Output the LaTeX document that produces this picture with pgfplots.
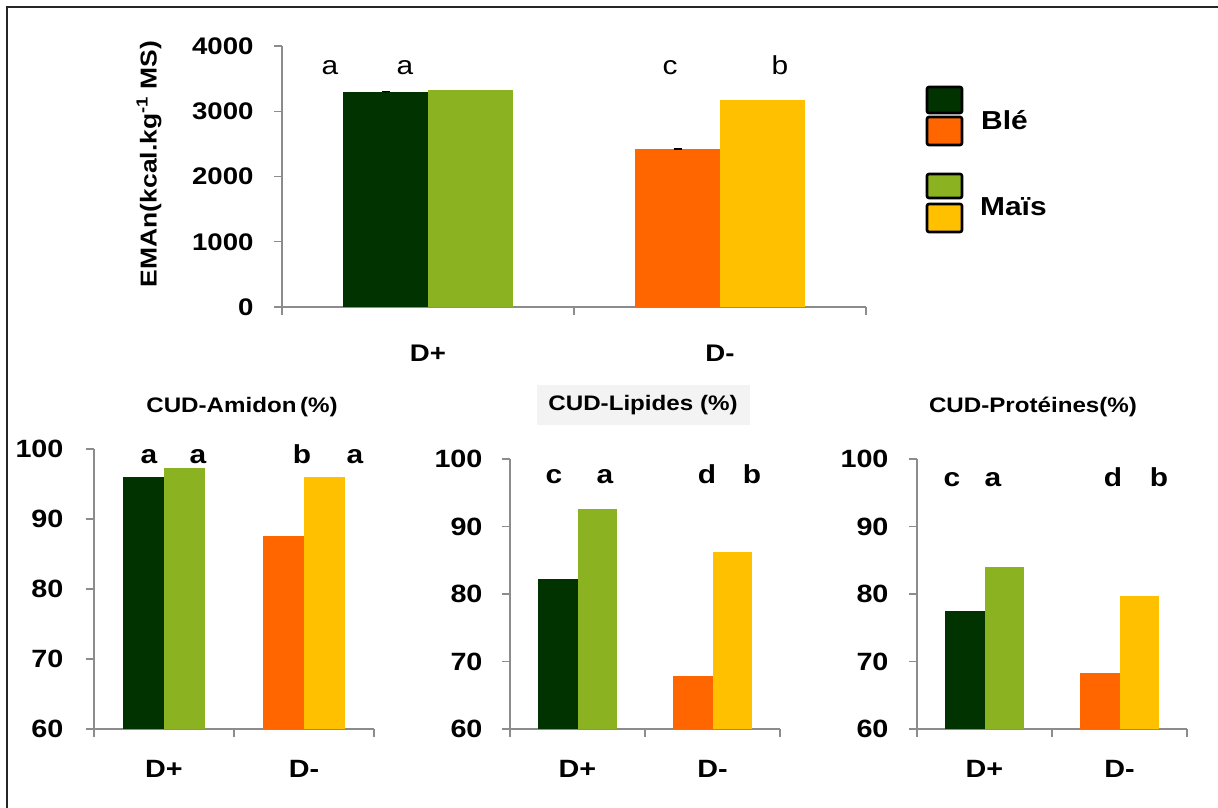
\documentclass[border=0pt]{standalone}
\usepackage{fontspec}
\setmainfont{Liberation Sans}[FakeStretch=1.15]
\usepackage{pgfplots}
\pgfplotsset{compat=1.18}
\definecolor{dg}{HTML}{003300}
\definecolor{lg}{HTML}{8BB321}
\definecolor{og}{HTML}{FF6600}
\definecolor{yl}{HTML}{FFC000}
\definecolor{axc}{HTML}{8C8C8C}
\definecolor{titlebg}{HTML}{F3F3F3}
\newcommand{\fs}[1]{\fontsize{#1bp}{#1bp}\selectfont}

\pgfplotsset{
  mybar/.style={
    scale only axis,
    axis x line*=bottom, axis y line*=left,
    axis line style={axc, line width=1.3bp, -},
    ybar, bar width=0.29,
    xmin=-0.5, xmax=1.5,
    xtick={-0.5,0.5,1.5},
    tick align=outside,
    major tick length=8bp,
    tick style={axc, line width=1.3bp},
    /pgf/number format/assume math mode=true,
    /pgf/number format/1000 sep={},
    every axis plot/.append style={draw=none},
    clip mode=individual,
  },
}

\begin{document}
\begin{tikzpicture}
\path[use as bounding box] (0,0) rectangle (1218bp,808bp);
\draw[line width=2.5bp, black!85] (7bp,-5bp) -- (7bp,801bp) -- (1225bp,801bp);

% ---------- top chart ----------
\begin{axis}[mybar,
  at={(282bp,501bp)}, anchor=south west,
  width=584bp, height=261bp,
  ymin=0, ymax=4000, ytick={0,1000,2000,3000,4000},
  xticklabels={D+,D-,{}},
  xticklabel style={xshift=146bp, yshift=-26bp, font=\bfseries\fs{24}},
  yticklabel style={xshift=-17bp, font=\bfseries\fs{24}},
]
\addplot[fill=dg, bar shift=-0.145,
  error bars/.cd, y dir=plus, y explicit,
  error bar style={black, line width=1.5bp},
  error mark options={black, rotate=90, mark size=4bp, line width=1.5bp}]
  coordinates {(0,3300) +- (0,2)};
\addplot[fill=lg, bar shift=0.145] coordinates {(0,3320)};
\addplot[fill=og, bar shift=-0.145,
  error bars/.cd, y dir=plus, y explicit,
  error bar style={black, line width=1.5bp},
  error mark options={black, rotate=90, mark size=4bp, line width=1.5bp}]
  coordinates {(1,2420) +- (0,2)};
\addplot[fill=yl, bar shift=0.145] coordinates {(1,3170)};
\node[anchor=base, font=\fs{26}] at (axis cs:-0.336,3556) {a};
\node[anchor=base, font=\fs{26}] at (axis cs:-0.079,3556) {a};
\node[anchor=base, font=\fs{26}] at (axis cs:0.829,3556) {c};
\node[anchor=base, font=\fs{26}] at (axis cs:1.205,3556) {b};
\end{axis}
\node[rotate=90, font=\bfseries\fs{23}] at (149bp,644bp) {EMAn(kcal.kg\textsuperscript{-1} MS)};

% legend
\draw[line width=2.6bp, rounded corners=2bp, fill=dg] (927bp,721bp) rectangle (962bp,695bp);
\draw[line width=2.6bp, rounded corners=2bp, fill=og] (927bp,691bp) rectangle (962bp,663bp);
\draw[line width=2.6bp, rounded corners=2bp, fill=lg] (927bp,634bp) rectangle (962bp,610bp);
\draw[line width=2.6bp, rounded corners=2bp, fill=yl] (927bp,604bp) rectangle (962bp,576bp);
\node[anchor=west, font=\bfseries\fs{26}, inner sep=0pt] at (981bp,688bp) {Blé};
\node[anchor=west, font=\bfseries\fs{26}, inner sep=0pt] at (980bp,601bp) {Maïs};

% ---------- CUD-Amidon ----------
\begin{axis}[mybar,
  at={(94bp,79bp)}, anchor=south west,
  width=280bp, height=280bp,
  ymin=60, ymax=100, ytick={60,70,80,90,100},
  xticklabels={D+,D-,{}},
  xticklabel style={xshift=70bp, yshift=-20bp, font=\bfseries\fs{25}},
  yticklabel style={xshift=-19bp, font=\bfseries\fs{25}},
]
\addplot[fill=dg, bar shift=-0.145] coordinates {(0,96.0)};
\addplot[fill=lg, bar shift=0.145] coordinates {(0,97.3)};
\addplot[fill=og, bar shift=-0.145] coordinates {(1,87.5)};
\addplot[fill=yl, bar shift=0.145] coordinates {(1,96.0)};
\node[anchor=base, font=\bfseries\fs{26}] at (axis cs:-0.107,97.9) {a};
\node[anchor=base, font=\bfseries\fs{26}] at (axis cs:0.243,97.9) {a};
\node[anchor=base, font=\bfseries\fs{26}] at (axis cs:0.986,97.9) {b};
\node[anchor=base, font=\bfseries\fs{26}] at (axis cs:1.364,97.9) {a};
\end{axis}
\node[font=\bfseries\fs{21}] at (242bp,401bp) {CUD-Amidon\,(\%)};

% ---------- CUD-Lipides ----------
\begin{axis}[mybar,
  at={(510bp,79bp)}, anchor=south west,
  width=270bp, height=270bp,
  ymin=60, ymax=100, ytick={60,70,80,90,100},
  xticklabels={D+,D-,{}},
  xticklabel style={xshift=67.5bp, yshift=-20bp, font=\bfseries\fs{25}},
  yticklabel style={xshift=-16bp, font=\bfseries\fs{25}},
]
\addplot[fill=dg, bar shift=-0.145] coordinates {(0,82.2)};
\addplot[fill=lg, bar shift=0.145] coordinates {(0,92.6)};
\addplot[fill=og, bar shift=-0.145] coordinates {(1,67.8)};
\addplot[fill=yl, bar shift=0.145] coordinates {(1,86.2)};
\node[anchor=base, font=\bfseries\fs{26}] at (axis cs:-0.174,96.3) {c};
\node[anchor=base, font=\bfseries\fs{26}] at (axis cs:0.204,96.3) {a};
\node[anchor=base, font=\bfseries\fs{26}] at (axis cs:0.959,96.3) {d};
\node[anchor=base, font=\bfseries\fs{26}] at (axis cs:1.293,96.3) {b};
\end{axis}
\node[font=\bfseries\fs{21}, fill=titlebg, minimum width=213bp, minimum height=40bp] at (643bp,403bp) {CUD-Lipides (\%)};

% ---------- CUD-Proteines ----------
\begin{axis}[mybar,
  at={(917bp,79bp)}, anchor=south west,
  width=270bp, height=270bp,
  ymin=60, ymax=100, ytick={60,70,80,90,100},
  xticklabels={D+,D-,{}},
  xticklabel style={xshift=67.5bp, yshift=-20bp, font=\bfseries\fs{25}},
  yticklabel style={xshift=-17bp, font=\bfseries\fs{25}},
]
\addplot[fill=dg, bar shift=-0.145] coordinates {(0,77.5)};
\addplot[fill=lg, bar shift=0.145] coordinates {(0,84.0)};
\addplot[fill=og, bar shift=-0.145] coordinates {(1,68.3)};
\addplot[fill=yl, bar shift=0.145] coordinates {(1,79.7)};
\node[anchor=base, font=\bfseries\fs{26}] at (axis cs:-0.241,96.0) {c};
\node[anchor=base, font=\bfseries\fs{26}] at (axis cs:0.063,96.0) {a};
\node[anchor=base, font=\bfseries\fs{26}] at (axis cs:0.952,96.0) {d};
\node[anchor=base, font=\bfseries\fs{26}] at (axis cs:1.293,96.0) {b};
\end{axis}
\node[font=\bfseries\fs{21}] at (1033bp,401bp) {CUD-Protéines(\%)};
\end{tikzpicture}
\end{document}
